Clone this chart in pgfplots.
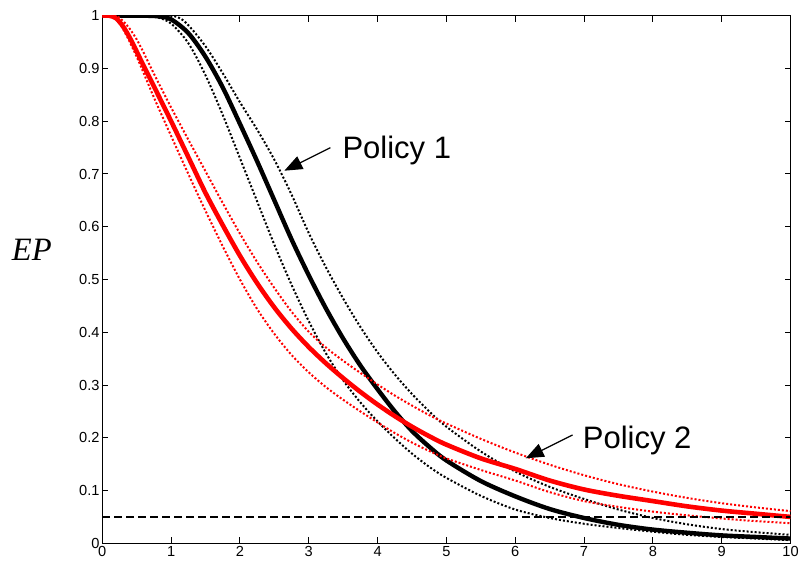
\documentclass[border=0pt]{standalone}
\usepackage{pgfplots}
\pgfplotsset{compat=1.18}
\usetikzlibrary{arrows.meta}
\usepackage{fontspec}
\setmainfont{Liberation Sans}
\newfontfamily\timesf{Liberation Serif}
\begin{document}
\begin{tikzpicture}
\useasboundingbox (-51.15pt,-11.85pt) rectangle (349.35pt,271.65pt);
\begin{axis}[
  at={(0,0)}, anchor=south west,
  scale only axis,
  width=344.1pt, height=263.8pt,
  xmin=0, xmax=10, ymin=0, ymax=1,
  xtick={0,1,...,10},
  ytick={0,0.1,0.2,0.3,0.4,0.5,0.6,0.7,0.8,0.9,1},
  yticklabels={0,0.1,0.2,0.3,0.4,0.5,0.6,0.7,0.8,0.9,1},
  tick align=inside,
  major tick length=3pt,
  axis line style={line width=0.7pt},
  every tick/.style={black, line width=0.5pt},
  tick label style={font=\fontsize{7.3}{8}\selectfont},
  /pgf/number format/assume math mode=true,
  yticklabel style={inner sep=1.2pt},
  xticklabel style={inner sep=1.4pt},
  clip mode=individual,
]
% Policy 1 bounds (black dotted)
\addplot[black, line width=1pt, dash pattern=on 1pt off 1pt, smooth] table {
0 1
0.6 1
0.8 0.997
1.0 0.985
1.25 0.948
1.5 0.887
1.75 0.812
2.0 0.730
2.25 0.648
2.5 0.566
2.75 0.490
3.0 0.421
3.25 0.360
3.5 0.309
3.75 0.267
4.0 0.231
4.25 0.199
4.5 0.170
4.75 0.145
5.0 0.124
5.5 0.090
6.0 0.064
6.5 0.048
7.0 0.037
7.5 0.029
8.0 0.022
8.5 0.016
9.0 0.012
9.5 0.009
10 0.006
};
\addplot[black, line width=1pt, dash pattern=on 1pt off 1pt, smooth] table {
0 1
0.9 1
1.1 0.997
1.25 0.982
1.5 0.942
1.75 0.891
2.0 0.836
2.25 0.784
2.5 0.727
2.75 0.661
3.0 0.588
3.25 0.523
3.5 0.464
3.75 0.410
4.0 0.362
4.25 0.320
4.5 0.283
4.75 0.250
5.0 0.221
5.5 0.174
6.0 0.136
6.5 0.107
7.0 0.084
7.5 0.064
8.0 0.048
8.5 0.036
9.0 0.027
9.5 0.021
10 0.016
};
% Policy 1 mean (black solid)
\addplot[black, line width=2.2pt, smooth] table {
0 1
0.5 1
0.8 0.999
1.0 0.993
1.25 0.967
1.5 0.922
1.75 0.864
2.0 0.795
2.25 0.724
2.5 0.650
2.75 0.576
3.0 0.508
3.25 0.445
3.5 0.388
3.75 0.337
4.0 0.292
4.25 0.250
4.5 0.213
4.75 0.183
5.0 0.157
5.5 0.118
6.0 0.089
6.5 0.065
7.0 0.048
7.5 0.035
8.0 0.026
8.5 0.020
9.0 0.015
9.5 0.012
10 0.009
};
% Policy 2 bounds (red dotted)
\addplot[red, line width=1pt, dash pattern=on 1pt off 1pt, smooth] table {
0 1
0.15 1
0.3 0.975
0.5 0.922
0.75 0.845
1.0 0.772
1.25 0.700
1.5 0.630
1.75 0.563
2.0 0.500
2.25 0.444
2.5 0.397
2.75 0.357
3.0 0.324
3.25 0.296
3.5 0.272
3.75 0.250
4.0 0.229
4.25 0.209
4.5 0.191
4.75 0.175
5.0 0.161
5.5 0.139
6.0 0.119
6.5 0.097
7.0 0.080
7.5 0.069
8.0 0.060
8.5 0.053
9.0 0.047
9.5 0.042
10 0.038
};
\addplot[red, line width=1pt, dash pattern=on 1pt off 1pt, smooth] table {
0 1
0.2 1
0.3 0.99
0.4 0.975
0.5 0.955
0.6 0.93
0.75 0.89
1.0 0.826
1.25 0.765
1.5 0.705
1.75 0.645
2.0 0.587
2.25 0.533
2.5 0.484
2.75 0.439
3.0 0.401
3.25 0.371
3.5 0.346
3.75 0.323
4.0 0.301
4.25 0.280
4.5 0.261
4.75 0.243
5.0 0.227
5.5 0.198
6.0 0.172
6.5 0.149
7.0 0.129
7.5 0.112
8.0 0.098
8.5 0.086
9.0 0.076
9.5 0.068
10 0.061
};
% Policy 2 mean (red solid)
\addplot[red, line width=2.3pt, smooth] table {
0 1
0.1 1
0.2 0.995
0.3 0.980
0.4 0.958
0.5 0.932
0.6 0.905
0.75 0.866
1.0 0.800
1.25 0.732
1.5 0.664
1.75 0.603
2.0 0.545
2.25 0.493
2.5 0.447
2.75 0.407
3.0 0.372
3.25 0.341
3.5 0.313
3.75 0.287
4.0 0.263
4.25 0.241
4.5 0.221
4.75 0.203
5.0 0.187
5.5 0.161
6.0 0.141
6.5 0.119
7.0 0.102
7.5 0.090
8.0 0.080
8.5 0.070
9.0 0.062
9.5 0.056
10 0.050
};
% threshold
\addplot[black, line width=0.65pt, dash pattern=on 4pt off 2pt] coordinates {(0,0.05) (10,0.05)};
% annotations
\draw[line width=0.6pt, -{Triangle[length=9pt,width=7pt]}] (axis cs:3.314,0.7498) -- (axis cs:2.645,0.7062);
\draw[line width=0.6pt, -{Triangle[length=9pt,width=7pt]}] (axis cs:6.833,0.2053) -- (axis cs:6.153,0.1611);
\node[anchor=base west, inner sep=0pt, font=\fontsize{15.5}{17}\selectfont] at (axis cs:3.485,0.730) {Policy 1};
\node[anchor=base west, inner sep=0pt, font=\fontsize{15.5}{17}\selectfont] at (axis cs:6.978,0.180) {Policy 2};
\node[anchor=center, inner sep=0pt, font=\timesf\itshape\fontsize{16.3}{18}\selectfont] at (axis cs:-1.023,0.556) {EP};
\end{axis}
\end{tikzpicture}
\end{document}
